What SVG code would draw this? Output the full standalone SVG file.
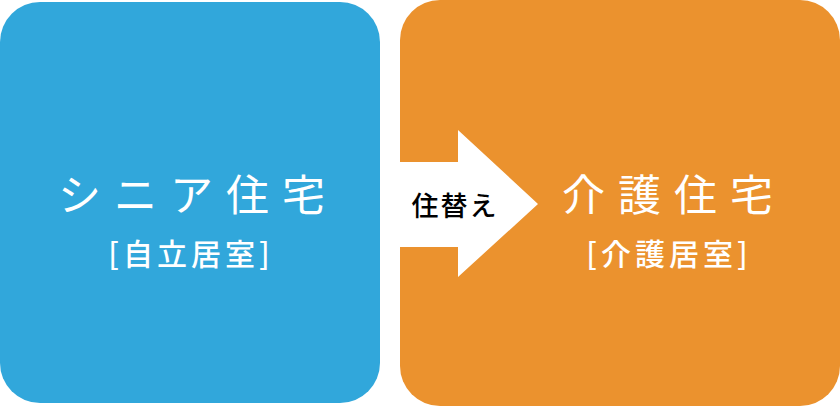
<svg xmlns="http://www.w3.org/2000/svg" width="840" height="406" viewBox="0 0 840 406">
<style>
.title{font-family:"Noto Sans CJK JP","Noto Sans",sans-serif;font-weight:400;font-size:43px;fill:#fff;text-anchor:middle;letter-spacing:13px}
.sub{font-family:"Noto Sans CJK JP","Noto Sans",sans-serif;font-weight:500;font-size:30px;fill:#fff;text-anchor:middle;letter-spacing:4px}
.lbl{font-family:"Noto Sans CJK JP","Noto Sans",sans-serif;font-weight:500;font-size:27px;fill:#000;text-anchor:middle;letter-spacing:2px}
</style>
<rect width="840" height="406" fill="#fff"/>
<g id="senior">
<rect x="0" y="2" width="380" height="401" rx="40" ry="40" fill="#31A7DB"/>
<text class="title" x="198" y="211">シニア住宅</text>
<text class="sub" x="191" y="265">[自立居室]</text>
</g>
<g id="care">
<rect x="400" y="0" width="440" height="406" rx="40" ry="40" fill="#EB922E"/>
<text class="title" x="674" y="211">介護住宅</text>
<text class="sub" x="669" y="265">[介護居室]</text>
</g>
<g id="connectors">
<polygon points="400,162 458,162 458,130 538,204 458,277 458,247 400,247" fill="#fff"/>
<text class="lbl" x="455" y="216">住替え</text>
</g>
</svg>
